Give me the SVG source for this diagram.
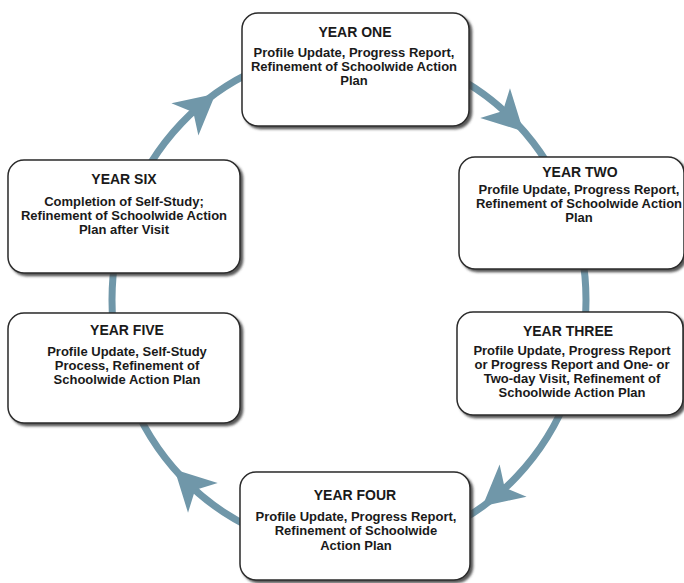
<svg xmlns="http://www.w3.org/2000/svg" width="684" height="583" viewBox="0 0 684 583">
<defs>
<filter id="sh" x="-5%" y="-5%" width="115%" height="120%">
<feDropShadow dx="2.5" dy="2.5" stdDeviation="1.2" flood-color="#3a3a3a" flood-opacity="0.85"/>
</filter>
<path id="ah" d="M2,0 L-38,-21 L-27,0 L-38,21 Z"/>
</defs>
<style>
.box{fill:#fff;stroke:#2a2a2a;stroke-width:1.5;filter:url(#sh)}
.t{font-family:"Liberation Sans",Arial,sans-serif;font-weight:bold;fill:#1a1a1a;text-anchor:middle}
.h{font-size:14px}
.b{font-size:13px}
.ring{fill:none;stroke:#7097a9;stroke-width:7}
.arrow{fill:#7097a9}
</style>
<rect width="684" height="583" fill="#fff"/>
<g id="connectors">
<ellipse class="ring" cx="349" cy="300" rx="237" ry="250"/>
<use href="#ah" class="arrow" transform="translate(214,95) rotate(-40)"/>
<use href="#ah" class="arrow" transform="translate(522,130) rotate(45)"/>
<use href="#ah" class="arrow" transform="translate(484,505) rotate(140)"/>
<use href="#ah" class="arrow" transform="translate(176,471) rotate(-135)"/>
</g>
<g id="year-one">
<rect class="box" x="242" y="13" width="227" height="113" rx="16"/>
<text class="t h" x="355" y="37">YEAR ONE</text>
<text class="t b" x="354" y="57">Profile Update, Progress Report,</text>
<text class="t b" x="354" y="71">Refinement of Schoolwide Action</text>
<text class="t b" x="354" y="85">Plan</text>
</g>
<g id="year-two">
<rect class="box" x="459" y="157" width="225" height="112" rx="16"/>
<text class="t h" x="580" y="177">YEAR TWO</text>
<text class="t b" x="579" y="194">Profile Update, Progress Report,</text>
<text class="t b" x="579" y="208">Refinement of Schoolwide Action</text>
<text class="t b" x="579" y="222">Plan</text>
</g>
<g id="year-three">
<rect class="box" x="457" y="312" width="226" height="103" rx="16"/>
<text class="t h" x="568" y="336">YEAR THREE</text>
<text class="t b" x="572" y="355">Profile Update, Progress Report</text>
<text class="t b" x="572" y="369">or Progress Report and One- or</text>
<text class="t b" x="572" y="383">Two-day Visit, Refinement of</text>
<text class="t b" x="572" y="397">Schoolwide Action Plan</text>
</g>
<g id="year-four">
<rect class="box" x="240" y="472" width="230" height="108" rx="16"/>
<text class="t h" x="355" y="500">YEAR FOUR</text>
<text class="t b" x="356" y="521">Profile Update, Progress Report,</text>
<text class="t b" x="356" y="535">Refinement of Schoolwide</text>
<text class="t b" x="356" y="550">Action Plan</text>
</g>
<g id="year-five">
<rect class="box" x="8" y="313" width="232" height="110" rx="16"/>
<text class="t h" x="127" y="335">YEAR FIVE</text>
<text class="t b" x="127" y="356">Profile Update, Self-Study</text>
<text class="t b" x="127" y="370">Process, Refinement of</text>
<text class="t b" x="127" y="384">Schoolwide Action Plan</text>
</g>
<g id="year-six">
<rect class="box" x="8" y="160" width="232" height="113" rx="16"/>
<text class="t h" x="124" y="184">YEAR SIX</text>
<text class="t b" x="124" y="206">Completion of Self-Study;</text>
<text class="t b" x="124" y="220">Refinement of Schoolwide Action</text>
<text class="t b" x="124" y="234">Plan after Visit</text>
</g>
</svg>
